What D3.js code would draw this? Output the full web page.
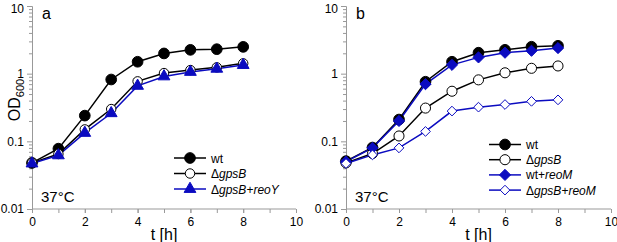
<!DOCTYPE html>
<html><head><meta charset="utf-8">
<script src="https://cdn.jsdelivr.net/npm/d3@7"></script>
<style>body{margin:0;background:#fff}svg{display:block;font-family:Arial,"Liberation Sans",sans-serif}</style>
</head><body><svg id="c" width="617" height="242"></svg>
<script>
const hours = [0,1,2,3,4,5,6,7,8];
const xTicks = [0,2,4,6,8,10];
const yTicks = [0.01,0.1,1,10];
const yTickLabels = ["0.01","0.1","1","10"];
// panel a
const aWt      = [0.048,0.078,0.24,0.82,1.5,1.99,2.25,2.3,2.49];
const aGpsB    = [0.048,0.065,0.15,0.30,0.77,1.02,1.13,1.24,1.42];
const aGpsBreoY= [0.047,0.062,0.133,0.26,0.66,0.91,1.06,1.18,1.34];
// panel b
const bWt      = [0.051,0.081,0.21,0.76,1.5,2.04,2.25,2.5,2.58];
const bGpsB    = [0.048,0.066,0.12,0.31,0.55,0.81,1.03,1.2,1.3];
const bWtReoM  = [0.050,0.080,0.20,0.70,1.35,1.74,2.04,2.18,2.39];
const bGpsBreoM= [0.047,0.063,0.08,0.14,0.28,0.32,0.35,0.39,0.41];

const BLUE = "#0b0bc0";
const svg = d3.select("#c");

function panel(x0, x1, letter, series, legend){
  const x = d3.scaleLinear().domain([0,10]).range([x0,x1]);
  const y = d3.scaleLog().domain([0.01,10]).range([209,6]);
  const g = svg.append("g");
  // y axis
  const minor = [];
  for (let d=0.01; d<10; d*=10) for (let k=1;k<=9;k++) minor.push(d*k);
  g.append("g").attr("transform",`translate(${x0},0)`)
    .call(d3.axisLeft(y).tickValues(minor.filter(v=>!yTicks.some(t=>Math.abs(t-v)/t<1e-6))).tickSize(3).tickFormat(""))
    .call(s=>{s.select(".domain").remove(); s.selectAll("line").attr("stroke","#999");});
  g.append("g").attr("transform",`translate(${x0},0)`)
    .call(d3.axisLeft(y).tickValues(yTicks).tickSize(5).tickPadding(3).tickFormat((d,i)=>yTickLabels[i]))
    .call(s=>{s.select(".domain").attr("stroke","#999"); s.selectAll("line").attr("stroke","#999");
      s.selectAll("text").attr("font-size",12).attr("fill","#000").attr("font-family","Arial,'Liberation Sans',sans-serif")
        .attr("dy",d=>d===10?"0.5em":"0.32em");});
  // x axis
  g.append("g").attr("transform",`translate(0,209)`)
    .call(d3.axisBottom(x).tickValues(d3.range(0,11)).tickSize(4).tickFormat(""))
    .call(s=>{s.select(".domain").remove(); s.selectAll("line").attr("stroke","#999");});
  g.append("g").attr("transform",`translate(0,209)`)
    .call(d3.axisBottom(x).tickValues(xTicks).tickSize(4).tickPadding(4).tickFormat(d3.format("d")))
    .call(s=>{s.select(".domain").attr("stroke","#999").attr("d",`M${x0},0H${x1}`); s.selectAll("line").attr("stroke","#999");
      s.selectAll("text").attr("font-size",12).attr("fill","#000").attr("font-family","Arial,'Liberation Sans',sans-serif");});
  g.append("text").attr("x",(x0+x1)/2).attr("y",240).attr("text-anchor","middle").attr("font-size",16).text("t [h]");
  g.append("text").attr("x",x0+10).attr("y",19).attr("font-size",16).text(letter);
  g.append("text").attr("x",x0+9).attr("y",202).attr("font-size",15).text("37°C");

  const line = d3.line().x((d,i)=>x(hours[i])).y(d=>y(d));
  series.forEach(s=>{
    g.append("path").datum(s.values).attr("d",line).attr("fill","none").attr("stroke",s.color).attr("stroke-width",1.5);
  });
  series.forEach(s=>{
    g.selectAll(null).data(s.values).enter().append("path")
      .attr("transform",(d,i)=>`translate(${x(hours[i])},${y(d)})`)
      .attr("d",d3.symbol().type(s.sym).size(s.size)())
      .attr("fill",s.fill).attr("stroke",s.color).attr("stroke-width",1);
  });
  // legend
  series.forEach((s,i)=>{
    const ly = legend.y + i*legend.dy;
    g.append("line").attr("x1",legend.x).attr("x2",legend.x+32).attr("y1",ly).attr("y2",ly).attr("stroke",s.color).attr("stroke-width",1.5);
    g.append("path").attr("transform",`translate(${legend.x+16},${ly})`).attr("d",d3.symbol().type(s.sym).size(s.size)())
      .attr("fill",s.fill).attr("stroke",s.color).attr("stroke-width",1);
    const t = g.append("text").attr("x",legend.x+37).attr("y",ly+4.5).attr("font-size",12);
    s.label.forEach(p=>t.append("tspan").attr("font-style",p[1]?"italic":"normal").text(p[0]));
  });
}

panel(32, 296, "a", [
  {values:aWt, color:"#000", fill:"#000", sym:d3.symbolCircle, size:90, label:[["wt",0]]},
  {values:aGpsB, color:"#000", fill:"#fff", sym:d3.symbolCircle, size:70, label:[["Δ",0],["gpsB",1]]},
  {values:aGpsBreoY, color:BLUE, fill:BLUE, sym:d3.symbolTriangle, size:60, label:[["Δ",0],["gpsB",1],["+",0],["reoY",1]]}
], {x:174, y:158, dy:15.5});

panel(346, 611, "b", [
  {values:bWt, color:"#000", fill:"#000", sym:d3.symbolCircle, size:90, label:[["wt",0]]},
  {values:bGpsB, color:"#000", fill:"#fff", sym:d3.symbolCircle, size:80, label:[["Δ",0],["gpsB",1]]},
  {values:bWtReoM, color:BLUE, fill:BLUE, sym:d3.symbolDiamond2 || d3.symbolDiamond, size:80, label:[["wt+",0],["reoM",1]]},
  {values:bGpsBreoM, color:BLUE, fill:"#fff", sym:d3.symbolDiamond2 || d3.symbolDiamond, size:60, label:[["Δ",0],["gpsB",1],["+",0],["reoM",1]]}
], {x:489, y:144.5, dy:15.2});

// y label
const yl = svg.append("text").attr("transform","translate(20,100) rotate(-90)").attr("text-anchor","middle").attr("font-size",16);
yl.append("tspan").text("OD");
yl.append("tspan").attr("font-size",11).attr("dy",4).text("600");
</script></body></html>
